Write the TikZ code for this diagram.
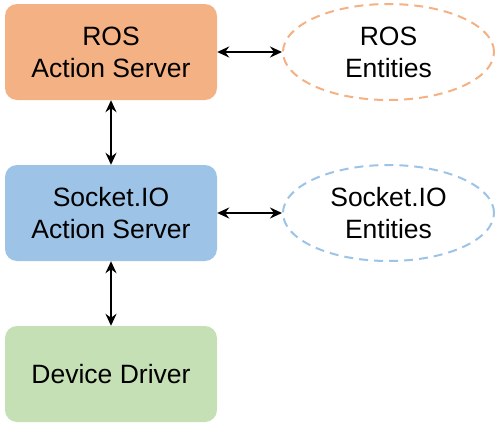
\documentclass[tikz,border=0pt]{standalone}
\usepackage{fontspec}
\setmainfont{Liberation Sans}
\usetikzlibrary{arrows.meta,shapes.geometric}
\definecolor{rosor}{HTML}{F4B183}
\definecolor{sioblue}{HTML}{9DC3E6}
\definecolor{devgreen}{HTML}{C5E0B4}
\tikzset{
  box/.style={rectangle, rounded corners=12pt, minimum width=212pt, minimum height=96pt, draw=none, align=center, font=\fontsize{26.5}{32}\selectfont, inner sep=0pt},
  ent/.style={ellipse, minimum width=211pt, minimum height=96pt, dash pattern=on 9pt off 6pt, line width=2pt, align=center, font=\fontsize{26.5}{32}\selectfont, inner sep=0pt},
  link/.style={{Stealth[length=12pt,width=11pt,inset=4pt]}-{Stealth[length=12pt,width=11pt,inset=4pt]}, line width=2pt, black}
}
\begin{document}
\begin{tikzpicture}[x=1pt,y=-1pt]
\useasboundingbox (0,0) rectangle (499,426);
\node[box, fill=rosor] (ros) at (111,52) {ROS\\Action Server};
\node[box, fill=sioblue] (sio) at (111,213) {Socket.IO\\Action Server};
\node[box, fill=devgreen] (dev) at (111,374) {Device Driver};
\node[ent, draw=rosor] (rosent) at (388.5,52) {ROS\\Entities};
\node[ent, draw=sioblue] (sioent) at (388.5,213) {Socket.IO\\Entities};
\draw[link] (ros.east) -- (rosent.west);
\draw[link] (sio.east) -- (sioent.west);
\draw[link] (ros.south) -- (sio.north);
\draw[link] (sio.south) -- (dev.north);
\end{tikzpicture}
\end{document}
